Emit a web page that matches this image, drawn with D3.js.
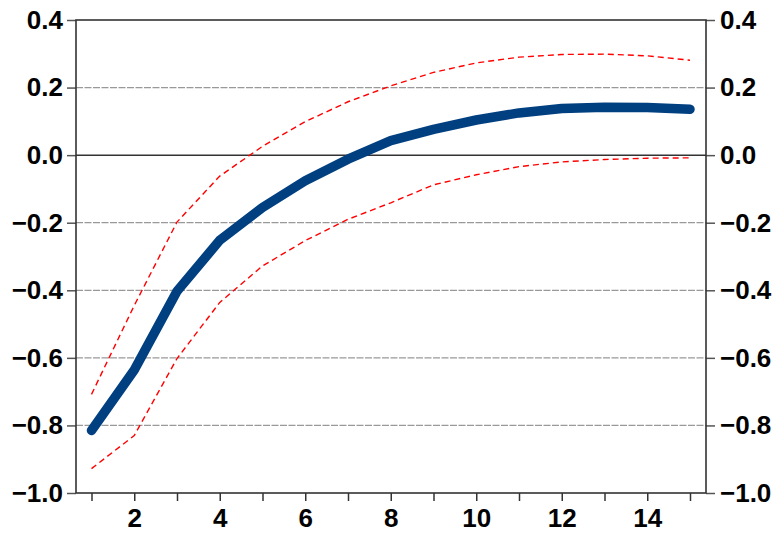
<!DOCTYPE html>
<html>
<head>
<meta charset="utf-8">
<script src="https://cdn.jsdelivr.net/npm/d3@7"></script>
<style>
  html, body { margin: 0; padding: 0; background: #fff; }
  svg { display: block; }
  .lbl { font-family: "Liberation Sans", Arial, sans-serif; font-weight: bold; font-size: 26px; fill: #000; }
</style>
</head>
<body>
<svg id="chart" width="780" height="535"></svg>
<script>
// Horizon (periods after the shock)
const periods = [1, 2, 3, 4, 5, 6, 7, 8, 9, 10, 11, 12, 13, 14, 15];
// Impulse response and its confidence band
const response = [-0.815, -0.636, -0.403, -0.252, -0.155, -0.076, -0.012, 0.043, 0.076, 0.104, 0.125, 0.138, 0.142, 0.141, 0.136];
const upperBand = [-0.708, -0.445, -0.198, -0.062, 0.026, 0.099, 0.158, 0.205, 0.245, 0.273, 0.29, 0.298, 0.299, 0.294, 0.281];
const lowerBand = [-0.928, -0.83, -0.602, -0.436, -0.328, -0.253, -0.19, -0.141, -0.088, -0.058, -0.034, -0.02, -0.013, -0.009, -0.008];
// Axis ticks
const yTicks = [-1.0, -0.8, -0.6, -0.4, -0.2, 0.0, 0.2, 0.4];
const xLabelTicks = [2, 4, 6, 8, 10, 12, 14];

const svg = d3.select("#chart");
const plot = { left: 76, right: 706, top: 20, bottom: 493 };

const x = d3.scaleLinear().domain([1, 15]).range([91.5, 690]);
const y = d3.scaleLinear().domain([-1.0, 0.4]).range([plot.bottom, plot.top]);

// Horizontal grid (dashed), zero line solid
yTicks.forEach(v => {
  if (v === 0.4 || v === -1.0) return;
  svg.append("line")
    .attr("x1", plot.left).attr("x2", plot.right)
    .attr("y1", y(v)).attr("y2", y(v))
    .attr("stroke", v === 0 ? "#333" : "#999")
    .attr("stroke-width", v === 0 ? 1.5 : 1.2)
    .attr("stroke-dasharray", v === 0 ? null : "7,1.5");
});

// Left axis
const yAxisL = d3.axisLeft(y).tickValues(yTicks).tickFormat(d3.format(".1f")).tickSize(9).tickPadding(4);
const gL = svg.append("g").attr("transform", `translate(${plot.left},0)`).call(yAxisL);
// Right axis
const yAxisR = d3.axisRight(y).tickValues(yTicks).tickFormat(d3.format(".1f")).tickSize(9).tickPadding(5);
const gR = svg.append("g").attr("transform", `translate(${plot.right},0)`).call(yAxisR);
// Bottom axis: ticks at every period, labels on even ones
const xAxis = d3.axisBottom(x).tickValues(periods)
  .tickFormat(d => xLabelTicks.includes(d) ? d : "").tickSize(8).tickPadding(8);
const gB = svg.append("g").attr("transform", `translate(0,${plot.bottom})`).call(xAxis);

[gL, gR, gB].forEach(g => {
  g.select(".domain").remove();
  g.selectAll(".tick line").attr("stroke", "#555").attr("stroke-width", 1.5);
  g.selectAll(".tick text").attr("class", "lbl").attr("fill", "#000");
});
gB.selectAll(".tick line").attr("stroke", "#333");

// Plot frame
svg.append("rect")
  .attr("x", plot.left).attr("y", plot.top)
  .attr("width", plot.right - plot.left).attr("height", plot.bottom - plot.top)
  .attr("fill", "none").attr("stroke", "#333").attr("stroke-width", 1.6);

const lineOf = vals => d3.line().x((d, i) => x(periods[i])).y(d => y(d))(vals);

// Confidence band
[upperBand, lowerBand].forEach(band => {
  svg.append("path")
    .attr("d", lineOf(band))
    .attr("fill", "none")
    .attr("stroke", "#ff0000")
    .attr("stroke-width", 1.4)
    .attr("stroke-dasharray", "6,4");
});

// Response
svg.append("path")
  .attr("d", lineOf(response))
  .attr("fill", "none")
  .attr("stroke", "#003f80")
  .attr("stroke-width", 9.5)
  .attr("stroke-linejoin", "round")
  .attr("stroke-linecap", "round");
</script>
</body>
</html>
